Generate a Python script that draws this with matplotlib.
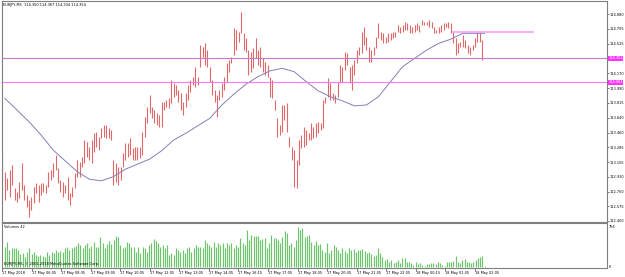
import matplotlib
matplotlib.use("Agg")
from matplotlib import pyplot as plt
from matplotlib import transforms
import numpy as np

title = "EURJPY,M5  114.350 114.367 114.334 114.354"

# bar highs / lows (left to right)
high = [113.23,
        112.99, 112.91, 113.01, 113.07, 112.79, 112.75, 112.87, 113.09, 112.83, 112.71,
        112.65, 112.69, 112.81, 112.85, 112.83, 112.85, 112.85, 112.83, 112.99, 113.01,
        113.09, 113.19, 113.03, 112.89, 112.87, 112.83, 112.93, 112.73, 112.81, 112.97,
        113.13, 113.11, 113.17, 113.37, 113.35, 113.29, 113.37, 113.45, 113.47, 113.41,
        113.51, 113.55, 113.55, 113.51, 113.49, 113.13, 113.09, 113.05, 113.05, 113.21,
        113.33, 113.33, 113.39, 113.27, 113.29, 113.29, 113.29, 113.47, 113.65, 113.77,
        113.91, 113.77, 113.73, 113.69, 113.67, 113.83, 113.83, 113.85, 113.87, 114.09,
        114.05, 114.03, 113.97, 113.93, 113.83, 113.93, 114.03, 114.09, 114.13, 114.25,
        114.13, 114.51, 114.49, 114.53, 114.45, 114.25, 114.09, 113.97, 113.91, 113.97,
        114.05, 114.13, 114.29, 114.33, 114.37, 114.71, 114.69, 114.67, 114.91, 114.65,
        114.59, 114.45, 114.43, 114.47, 114.59, 114.45, 114.49, 114.35, 114.31, 114.27,
        114.13, 114.09, 113.85, 113.63, 113.55, 113.79, 113.79, 113.81, 113.41, 113.29,
        113.25, 113.13, 113.37, 113.43, 113.53, 113.49, 113.45, 113.57, 113.53, 113.57,
        113.59, 113.57, 113.85, 113.89, 114.11, 114.05, 113.93, 113.91, 114.07, 114.27,
        114.25, 114.43, 114.41, 114.25, 114.27, 114.33, 114.45, 114.49, 114.67, 114.73,
        114.61, 114.49, 114.45, 114.49, 114.61, 114.77, 114.67, 114.65, 114.61, 114.65,
        114.65, 114.67, 114.67, 114.75, 114.73, 114.75, 114.79, 114.77, 114.75, 114.73,
        114.75, 114.77, 114.75, 114.81, 114.79, 114.79, 114.81, 114.79, 114.73, 114.69,
        114.73, 114.75, 114.77, 114.77, 114.79, 114.77, 114.67, 114.59, 114.53, 114.55,
        114.63, 114.57, 114.51, 114.49, 114.51, 114.59, 114.67, 114.65, 114.57]
low = [112.65,
       112.65, 112.77, 112.69, 112.83, 112.65, 112.63, 112.67, 112.77, 112.65, 112.57,
       112.45, 112.53, 112.61, 112.73, 112.63, 112.71, 112.75, 112.73, 112.81, 112.89,
       112.93, 113.01, 112.85, 112.75, 112.69, 112.73, 112.65, 112.59, 112.69, 112.79,
       112.93, 112.93, 113.05, 113.09, 113.17, 113.13, 113.09, 113.23, 113.29, 113.25,
       113.39, 113.41, 113.39, 113.39, 113.37, 112.83, 112.87, 112.83, 112.89, 113.05,
       113.13, 113.17, 113.19, 113.13, 113.13, 113.13, 113.15, 113.19, 113.41, 113.57,
       113.69, 113.63, 113.57, 113.55, 113.53, 113.53, 113.73, 113.77, 113.75, 113.81,
       113.89, 113.91, 113.83, 113.73, 113.67, 113.77, 113.85, 113.95, 114.03, 114.01,
       114.03, 114.25, 114.37, 114.27, 114.25, 114.07, 113.91, 113.83, 113.65, 113.85,
       113.89, 113.97, 114.07, 114.19, 114.29, 114.39, 114.45, 114.55, 114.65, 114.45,
       114.43, 114.15, 114.19, 114.23, 114.35, 114.27, 114.25, 114.19, 114.15, 114.13,
       113.89, 113.87, 113.73, 113.41, 113.43, 113.47, 113.61, 113.47, 113.29, 113.13,
       112.81, 112.79, 113.07, 113.27, 113.29, 113.31, 113.37, 113.37, 113.39, 113.41,
       113.45, 113.49, 113.51, 113.81, 113.89, 113.85, 113.85, 113.81, 113.89, 114.05,
       114.07, 114.21, 114.27, 114.05, 113.97, 114.15, 114.29, 114.39, 114.41, 114.51,
       114.45, 114.31, 114.31, 114.39, 114.47, 114.59, 114.57, 114.53, 114.53, 114.55,
       114.57, 114.59, 114.61, 114.67, 114.65, 114.67, 114.69, 114.69, 114.65, 114.65,
       114.67, 114.69, 114.67, 114.75, 114.75, 114.75, 114.73, 114.71, 114.65, 114.65,
       114.65, 114.67, 114.69, 114.73, 114.71, 114.65, 114.53, 114.39, 114.41, 114.49,
       114.49, 114.47, 114.41, 114.39, 114.45, 114.49, 114.55, 114.55, 114.33]

# moving average, every 5th bar plus the last one
ma = [113.87, 113.73, 113.59, 113.43, 113.25, 113.12, 112.99, 112.90, 112.88, 112.93,
      113.02, 113.08, 113.14, 113.24, 113.37, 113.45, 113.54, 113.63, 113.79, 113.92,
      114.04, 114.13, 114.20, 114.23, 114.19, 114.07, 113.96, 113.89, 113.84, 113.78,
      113.79, 113.89, 114.07, 114.25, 114.35, 114.45, 114.53, 114.58, 114.65, 114.65,
      114.65]

volume = [372, 453, 310, 341, 341, 341, 310, 229, 248, 186, 279, 341, 229, 279, 217,
          205, 217, 205, 174, 279, 217, 267, 248, 310, 267, 291, 279, 341, 372, 310,
          353, 372, 384, 434, 403, 341, 403, 434, 341, 384, 465, 372, 372, 558, 434,
          341, 415, 477, 415, 496, 577, 558, 403, 341, 372, 465, 434, 372, 372, 279,
          372, 248, 372, 341, 279, 403, 434, 515, 477, 434, 372, 403, 341, 403, 217,
          248, 217, 341, 310, 279, 310, 248, 341, 372, 279, 341, 403, 372, 372, 341,
          496, 434, 403, 372, 465, 372, 434, 403, 434, 341, 434, 403, 434, 341, 403,
          372, 527, 434, 403, 682, 496, 589, 577, 577, 577, 496, 515, 527, 341, 434,
          589, 527, 527, 496, 434, 558, 663, 620, 403, 434, 372, 496, 744, 682,
          713, 558, 577, 589, 465, 403, 477, 403, 415, 310, 279, 434, 248, 310, 403,
          372, 310, 248, 341, 291, 248, 341, 310, 329, 279, 310, 310, 329, 291, 248,
          279, 229, 205, 217, 341, 248, 186, 124, 143, 93, 124, 62, 93, 124, 62,
          155, 167, 93, 93, 62, 31, 93, 43, 62, 31, 5, 43, 43, 62, 62,
          43, 93, 62, 31, 19, 93, 93, 93, 105, 205, 93, 62, 124, 143, 93,
          93, 62, 93, 124, 167, 186, 198, 12]

price_ticks = [114.880, 114.705, 114.525, 114.170, 113.990, 113.815, 113.640,
               113.460, 113.285, 113.105, 112.930, 112.750, 112.575, 112.400]
time_labels = ["17 May 2018", "17 May 06:05", "17 May 08:35", "17 May 09:05",
               "17 May 10:05", "17 May 12:05", "17 May 13:05", "17 May 14:05",
               "17 May 16:15", "17 May 17:05", "17 May 18:05", "17 May 20:35",
               "17 May 21:05", "17 May 22:05", "18 May 00:15", "18 May 01:05",
               "18 May 02:05"]

bid = 114.352
level_lo = 114.064
level_hi = 114.665

fs = 2.5
frame = "#7f7f7f"

fig = plt.figure(figsize=(6.25, 2.77), dpi=100)
ax = fig.add_axes([2 / 625, 55 / 277, 605 / 625, 221 / 277])
axv = fig.add_axes([2 / 625, 9 / 277, 605 / 625, 45 / 277], sharex=ax)

x = np.arange(len(high))
ax.vlines(x, low, high, color="#e06868", lw=0.8)
ax.plot(np.append(np.arange(1, 200, 5), 200), ma, color="#8080b8", lw=0.7)

ax.axhline(bid, color="#c878cc", lw=0.8)
ax.axhline(level_lo, color="#ff77ff", lw=0.8)
ax.plot([187, 220], [level_hi, level_hi], color="#ffaaff", lw=1.4)

ax.set_xlim(-0.2, 250.8)
ax.set_ylim(112.386, 115.038)
ax.yaxis.tick_right()
ax.set_yticks(price_ticks)
ax.set_yticklabels(["%.3f" % p for p in price_ticks])
ax.tick_params(axis="y", labelsize=fs, length=1.5, width=0.5, pad=0.5, color="#444444")
ax.tick_params(axis="x", bottom=False, labelbottom=False)

tr = transforms.blended_transform_factory(ax.transAxes, ax.transData)
for lvl in [bid, level_lo]:
    ax.text(1.002, lvl, "%.3f" % lvl, transform=tr, fontsize=fs, color="white",
            va="center", ha="left",
            bbox=dict(boxstyle="square,pad=0.12", fc="#ff33ff", ec="none"))

ax.text(0.002, 0.992, title, transform=ax.transAxes, fontsize=fs, va="top", ha="left")

xv = np.linspace(1, 200, len(volume))
axv.vlines(xv, 0, volume, color="#6cc46c", lw=0.85)
axv.set_ylim(-24, 812)
axv.yaxis.tick_right()
axv.set_yticks([0, 756])
axv.set_yticklabels(["0", "756"])
axv.tick_params(axis="y", labelsize=fs, length=0, pad=1.5)
axv.text(0.004, 0.96, "Volumes 42", transform=axv.transAxes, fontsize=fs, va="top")
axv.text(0.004, 0.04, "EURJPY,M5, \u00a9 2001-2018 MetaQuotes Software Corp.",
         transform=axv.transAxes, fontsize=fs, va="bottom")

axv.set_xticks(np.arange(len(time_labels)) * 12.26 - 0.2)
axv.set_xticklabels(time_labels, ha="left")
axv.tick_params(axis="x", labelsize=fs, length=2, width=0.5, pad=0.5, color="#444444")

for a in [ax, axv]:
    for s in a.spines.values():
        s.set_color(frame)
        s.set_linewidth(0.8)

fig.savefig("out.png", dpi=100)
